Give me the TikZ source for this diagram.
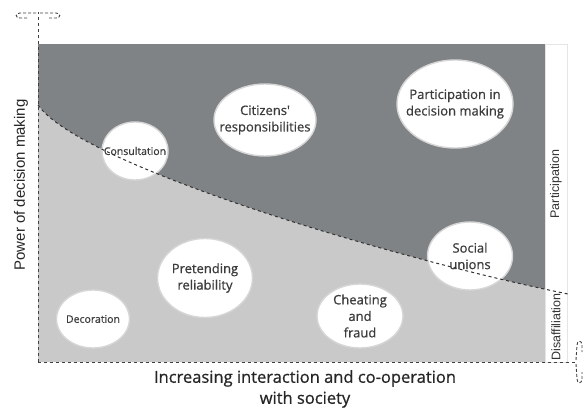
\documentclass[tikz,border=0pt]{standalone}
\usepackage{tikz}
\usepackage{tkz-euclide}
\usepackage{fontspec}
\setmainfont{Open Sans}
\newfontfamily\bubblefont{Open Sans}[BoldFont={Open Sans},BoldFeatures={FakeBold=0.7}]
\newfontfamily\arialfont{Liberation Sans}
\usetikzlibrary{calc,shapes.geometric}

\definecolor{darkzone}{RGB}{128,131,133}
\definecolor{lightzone}{RGB}{201,201,201}
\definecolor{inktext}{RGB}{60,60,60}

\tikzset{
    bubble/.style={ellipse, draw=black!16, line width=1.4pt, fill=white, inner sep=0pt},
    bubbletext/.style={align=center, inner sep=0pt, text=inktext,
        font=\bubblefont\bfseries\fontsize{13}{16.5}\selectfont},
    smalltext/.style={bubbletext, font=\bubblefont\bfseries\fontsize{10.5}{13}\selectfont},
    axisline/.style={dashed, line width=0.9pt, black!75},
    headline/.style={axisline, dash pattern=on 3pt off 2pt},
    boundary/.style={dashed, line width=1pt, black!80},
    sidelabel/.style={rotate=90, font=\arialfont\fontsize{12.5}{14}\selectfont, text=black!80}
}

\begin{document}
\begin{tikzpicture}[x=1pt,y=-1pt]
    \useasboundingbox (0,0) rectangle (588,409);
    \tkzDefPoint(38,44){A}
    \tkzDefPoint(545,44){B}
    \tkzDefPoint(545,362){C}
    \tkzDefPoint(38,362){O}
    \tkzDefPoint(567,362){D}
    \tkzDefPoint(38,105){P}
    \tkzDefPoint(568,294){Q}
    \tkzDefPoint(38,12){Ytop}
    \tkzDefPoint(577,362){Xend}
    % the two zones
    \fill[darkzone] (A) rectangle (C);
    \begin{scope}
        \clip (A) rectangle (C);
        \fill[lightzone] (P) .. controls (80,165) and (390,258) .. (Q) -- (Q |- O) -- (O) -- cycle;
    \end{scope}
    \draw[black!10, line width=0.8pt] (B) rectangle (D);
    % axes with open heads
    \draw[axisline] (O) -- (Ytop);
    \draw[axisline] (O) -- (Xend);
    \draw[headline] ($(Ytop)+(-2,1)$) -- (20,13) .. controls (15,13) and (15,18) .. (20,18) -- (27,18);
    \draw[headline] ($(Ytop)+(2,1)$) -- (56,13) .. controls (61,13) and (61,18) .. (56,18) -- (49,18);
    \draw[headline] ($(Xend)+(-1,-2)$) -- (577,345) .. controls (577,340) and (582,340) .. (582,345) -- (582,352);
    \draw[headline] ($(Xend)+(-1,2)$) -- (577,379) .. controls (577,384) and (582,384) .. (582,379) -- (582,372);
    % bubbles
    \node[bubble, minimum width=66pt, minimum height=58pt,
        label={[smalltext]center:Consultation}] (cons) at (135,151) {};
    \node[bubble, minimum width=102pt, minimum height=72pt,
        label={[bubbletext]center:Citizens\textquotesingle\\responsibilities}] (citz) at (265,120) {};
    \node[bubble, minimum width=116pt, minimum height=88pt,
        label={[bubbletext]center:Participation in\\decision making}] (part) at (455,104) {};
    \node[bubble, minimum width=85pt, minimum height=68pt,
        label={[bubbletext]center:Social\\unions}] (soc) at (470,256) {};
    \node[bubble, minimum width=86pt, minimum height=64pt,
        label={[bubbletext]center:Cheating\\and\\fraud}] (cheat) at (360,316) {};
    \node[bubble, minimum width=95pt, minimum height=79pt,
        label={[bubbletext]center:Pretending\\reliability}] (pret) at (205,278) {};
    \node[bubble, minimum width=73pt, minimum height=58pt,
        label={[smalltext]center:Decoration}] (deco) at (93,319) {};
    % border between the zones, drawn over the bubbles
    \draw[boundary] (P) .. controls (80,165) and (390,258) .. (Q);
    % labels
    \node[rotate=90, font=\arialfont\fontsize{15}{17}\selectfont, text=black!85] (ylab) at (21,185) {Power of decision making};
    \node[align=center, font=\bubblefont\bfseries\fontsize{16.5}{21}\selectfont, text=black!85] (xlab) at (305,389) {Increasing interaction and co-operation\\with society};
    \node[sidelabel] (partlab) at (556,184) {Participation};
    \node[sidelabel] (disaff) at (556,327) {Disaffiliation};
\end{tikzpicture}
\end{document}
